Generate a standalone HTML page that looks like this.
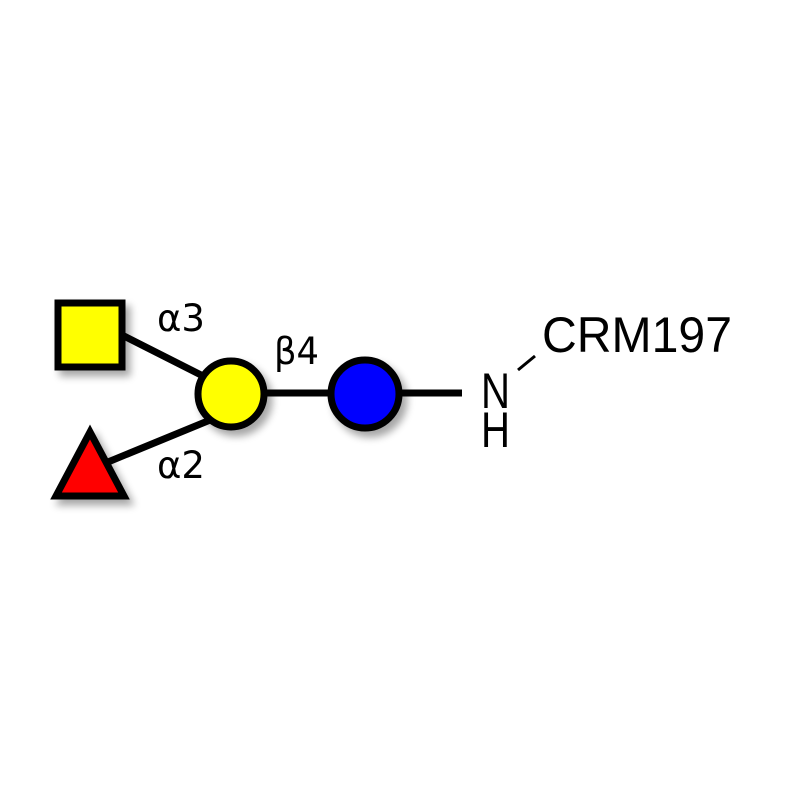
<!DOCTYPE html>
<html><head><meta charset="utf-8"><style>
html,body{margin:0;padding:0;background:#fff;}
svg{display:block;}
</style></head><body>
<svg width="800" height="800" viewBox="0 0 800 800" xmlns="http://www.w3.org/2000/svg">
<defs>
<filter id="sh" x="-50%" y="-50%" width="200%" height="200%">
<feGaussianBlur in="SourceAlpha" stdDeviation="4"/>
<feOffset dx="5" dy="6" result="b"/>
<feComponentTransfer><feFuncA type="linear" slope="0.35"/></feComponentTransfer>
<feMerge><feMergeNode/><feMergeNode in="SourceGraphic"/></feMerge>
</filter>
</defs>
<g stroke="#000" stroke-width="7" fill="none">
<line x1="122" y1="335" x2="205" y2="377"/>
<line x1="108" y1="462" x2="215" y2="418"/>
<line x1="265" y1="393" x2="330" y2="393"/>
<line x1="400" y1="393" x2="462" y2="393"/>
</g>
<line x1="518" y1="370" x2="535" y2="356" stroke="#000" stroke-width="3"/>
<g filter="url(#sh)" stroke="#000" stroke-width="7">
<rect x="58" y="303" width="64" height="64" fill="#ffff00"/>
<polygon points="90,432 56,496 124,496" fill="#ff0000" stroke-linejoin="miter"/>
<circle cx="231" cy="394" r="33" fill="#ffff00"/>
<circle cx="365" cy="394" r="34" fill="#0000ff"/>
</g>
<g font-family="DejaVu Sans, sans-serif" font-size="37" fill="#000">
<text x="157" y="331" textLength="48" lengthAdjust="spacingAndGlyphs">α3</text>
<text x="274" y="364" textLength="45" lengthAdjust="spacingAndGlyphs">β4</text>
<text x="157" y="478" textLength="48" lengthAdjust="spacingAndGlyphs">α2</text>
</g>
<g font-family="Liberation Sans, Arial, sans-serif" font-size="50" fill="#000">
<text x="481" y="408" textLength="29" lengthAdjust="spacingAndGlyphs">N</text>
<text x="481" y="447" textLength="29" lengthAdjust="spacingAndGlyphs">H</text>
<text x="542" y="352" textLength="190" lengthAdjust="spacingAndGlyphs">CRM197</text>
</g>
</svg>
</body></html>
